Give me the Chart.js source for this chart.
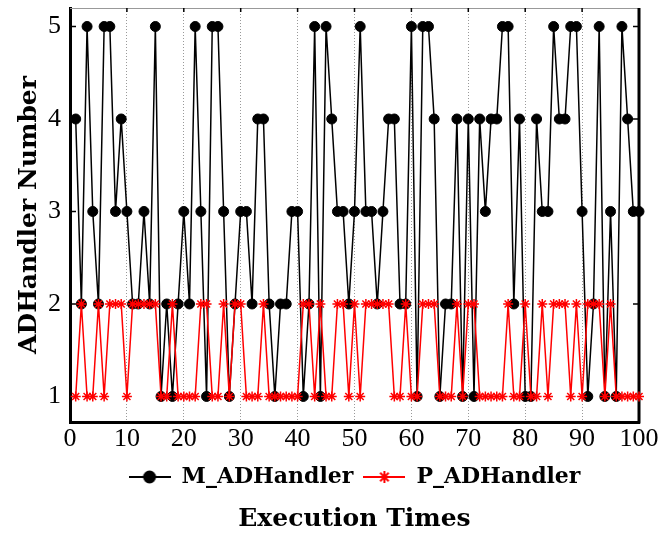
<!DOCTYPE html>
<html>
<head>
<meta charset="utf-8">
<script src="https://cdn.jsdelivr.net/npm/chart.js@4.4.0/dist/chart.umd.min.js"></script>
<style>
  html, body { margin: 0; padding: 0; background: #fff; }
  #wrap { width: 658px; height: 534px; }
</style>
</head>
<body>
<div id="wrap"><canvas id="adChart"></canvas></div>
<script>
// execution index (x) and handler counts
var execTimes = [
   1,  2,  3,  4,  5,  6,  7,  8,  9, 10, 11, 12, 13, 14, 15, 16, 17, 18, 19, 20,
  21, 22, 23, 24, 25, 26, 27, 28, 29, 30, 31, 32, 33, 34, 35, 36, 37, 38, 39, 40,
  41, 42, 43, 44, 45, 46, 47, 48, 49, 50, 51, 52, 53, 54, 55, 56, 57, 58, 59, 60,
  61, 62, 63, 64, 65, 66, 67, 68, 69, 70, 71, 72, 73, 74, 75, 76, 77, 78, 79, 80,
  81, 82, 83, 84, 85, 86, 87, 88, 89, 90, 91, 92, 93, 94, 95, 96, 97, 98, 99, 100
];
var mHandler = [
  4, 2, 5, 3, 2, 5, 5, 3, 4, 3, 2, 2, 3, 2, 5, 1, 2, 1, 2, 3,
  2, 5, 3, 1, 5, 5, 3, 1, 2, 3, 3, 2, 4, 4, 2, 1, 2, 2, 3, 3,
  1, 2, 5, 1, 5, 4, 3, 3, 2, 3, 5, 3, 3, 2, 3, 4, 4, 2, 2, 5,
  1, 5, 5, 4, 1, 2, 2, 4, 1, 4, 1, 4, 3, 4, 4, 5, 5, 2, 4, 1,
  1, 4, 3, 3, 5, 4, 4, 5, 5, 3, 1, 2, 5, 1, 3, 1, 5, 4, 3, 3
];
var pHandler = [
  1, 2, 1, 1, 2, 1, 2, 2, 2, 1, 2, 2, 2, 2, 2, 1, 1, 2, 1, 1,
  1, 1, 2, 2, 1, 1, 2, 1, 2, 2, 1, 1, 1, 2, 1, 1, 1, 1, 1, 1,
  2, 2, 1, 2, 1, 1, 2, 2, 1, 2, 1, 2, 2, 2, 2, 2, 1, 1, 2, 1,
  1, 2, 2, 2, 1, 1, 1, 2, 1, 2, 2, 1, 1, 1, 1, 1, 2, 1, 1, 2,
  1, 1, 2, 1, 2, 2, 2, 1, 2, 1, 2, 2, 2, 1, 2, 1, 1, 1, 1, 1
];
var xTicks = [0, 10, 20, 30, 40, 50, 60, 70, 80, 90, 100];
var yTicks = [1, 2, 3, 4, 5];

function points(ys) {
  return ys.map(function (v, i) { return { x: execTimes[i], y: v }; });
}

// little line+marker swatch for the legend
function legendIcon(color, style, r) {
  var c = document.createElement('canvas');
  c.width = 42; c.height = 20;
  var g = c.getContext('2d');
  g.strokeStyle = color; g.fillStyle = color; g.lineWidth = 2;
  g.beginPath(); g.moveTo(0, 10); g.lineTo(42, 10); g.stroke();
  Chart.helpers.drawPoint(g, { pointStyle: style, radius: r, borderWidth: 2, rotation: 0 }, 21, 10);
  return c;
}

var framePlugin = {
  id: 'frame',
  beforeDatasetsDraw: function (chart) {
    var a = chart.chartArea, g = chart.ctx;
    var xs = chart.scales.x, ys = chart.scales.y;
    g.save();
    g.strokeStyle = '#999'; g.lineWidth = 1;
    g.beginPath(); g.moveTo(a.left, a.top + 0.5); g.lineTo(a.right, a.top + 0.5); g.stroke();
    g.strokeStyle = '#000'; g.lineWidth = 3;
    g.beginPath(); g.moveTo(a.right, a.top); g.lineTo(a.right, a.bottom + 1.5); g.stroke();
    g.lineWidth = 1.5;
    g.beginPath();
    yTicks.forEach(function (v) {
      var py = ys.getPixelForValue(v);
      g.moveTo(a.left, py); g.lineTo(a.left + 6, py);
      g.moveTo(a.right, py); g.lineTo(a.right - 6, py);
    });
    xTicks.slice(1, -1).forEach(function (v) {
      var px = xs.getPixelForValue(v);
      g.moveTo(px, a.top); g.lineTo(px, a.top + 4);
    });
    g.stroke();
    g.restore();
  }
};

var ctx = document.getElementById('adChart').getContext('2d');

var adChart = new Chart(ctx, {
  type: 'line',
  data: {
    datasets: [{
      label: 'M_ADHandler',
      data: points(mHandler),
      borderColor: '#000',
      backgroundColor: '#000',
      borderWidth: 1.5,
      pointStyle: 'circle',
      pointRadius: 5,
      pointBorderWidth: 1,
      order: 2,
      clip: false
    }, {
      label: 'P_ADHandler',
      data: points(pHandler),
      borderColor: '#ff0000',
      backgroundColor: '#ff0000',
      borderWidth: 1.5,
      pointStyle: 'star',
      pointRadius: 5,
      pointBorderWidth: 1.5,
      order: 1,
      clip: false
    }]
  },
  options: {
    responsive: true,
    maintainAspectRatio: false,
    animation: false,
    layout: { padding: { left: 12, right: 19, top: 8, bottom: 0 } },
    scales: {
      x: {
        type: 'linear',
        min: 0,
        max: 100,
        afterBuildTicks: function (s) { s.ticks = xTicks.map(function (v) { return { value: v }; }); },
        afterFit: function (s) { s.paddingLeft = 0; s.paddingRight = 0; s.height = 34; },
        grid: {
          color: function (c) { return (c.tick && (c.tick.value === 0 || c.tick.value === 100)) ? 'rgba(0,0,0,0)' : '#999'; },
          lineWidth: 1,
          drawTicks: false
        },
        border: { color: '#000', width: 3, dash: [1, 2] },
        ticks: {
          color: '#000',
          padding: 2,
          maxRotation: 0,
          font: { family: 'Liberation Serif', size: 26 }
        }
      },
      y: {
        min: 0.724,
        max: 5.2,
        afterBuildTicks: function (s) { s.ticks = yTicks.map(function (v) { return { value: v }; }); },
        afterFit: function (s) { s.paddingTop = 0; s.paddingBottom = 0; s.width = 58; },
        grid: { display: false, drawTicks: false },
        border: { color: '#000', width: 3 },
        ticks: {
          color: '#000',
          padding: 9,
          font: { family: 'Liberation Serif', size: 26 }
        },
        title: {
          display: true,
          text: 'ADHandler Number',
          color: '#000',
          padding: { top: 2, bottom: 4 },
          font: { family: 'DejaVu Serif', size: 25, weight: 'bold' }
        }
      }
    },
    plugins: {
      tooltip: { enabled: false },
      legend: {
        position: 'bottom',
        fullSize: false,
        labels: {
          usePointStyle: true,
          pointStyleWidth: 42,
          padding: 10,
          color: '#000',
          font: { family: 'DejaVu Serif', size: 22, weight: 'bold' },
          generateLabels: function () {
            return [
              { text: 'M_ADHandler', pointStyle: legendIcon('#000', 'circle', 5.5), fontColor: '#000', datasetIndex: 0, lineWidth: 0, strokeStyle: '#000', fillStyle: '#000' },
              { text: 'P_ADHandler', pointStyle: legendIcon('#ff0000', 'star', 6), fontColor: '#000', datasetIndex: 1, lineWidth: 0, strokeStyle: '#f00', fillStyle: '#f00' }
            ];
          }
        }
      },
      title: {
        display: true,
        position: 'bottom',
        fullSize: false,
        text: 'Execution Times',
        color: '#000',
        padding: { top: 6, bottom: 0 },
        font: { family: 'DejaVu Serif', size: 25, weight: 'bold' }
      }
    }
  },
  plugins: [framePlugin]
});
</script>
</body>
</html>
